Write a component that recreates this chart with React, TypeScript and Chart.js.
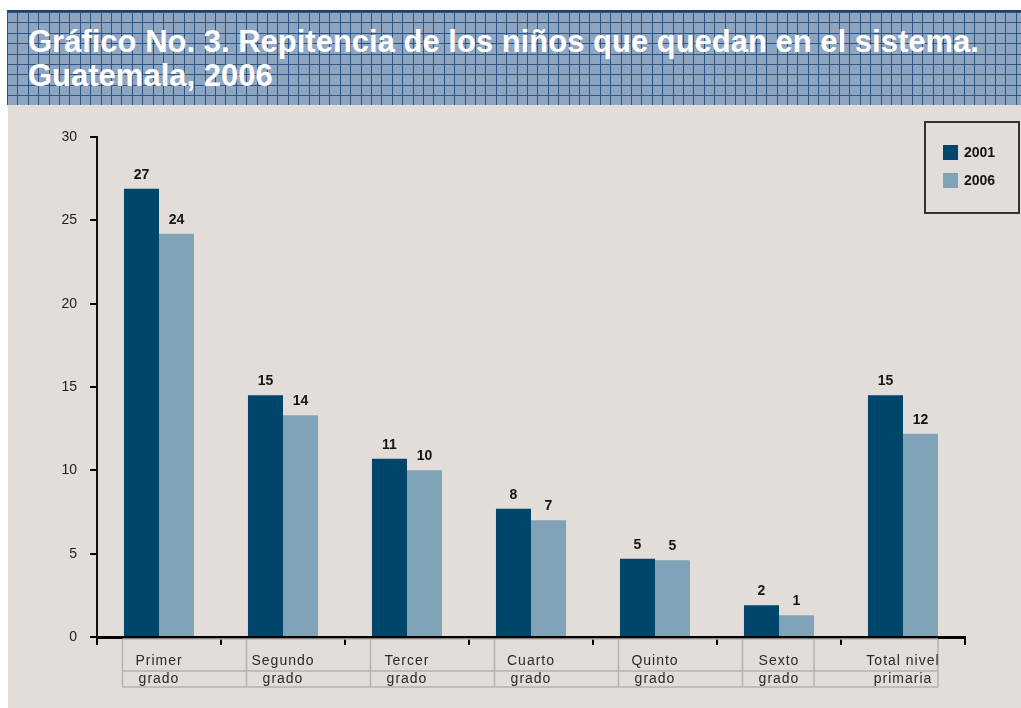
import React, { useEffect, useRef } from "react";
import { Chart, registerables } from "chart.js";

Chart.register(...registerables);

const categories: string[][] = [
  ["Primer", "grado"],
  ["Segundo", "grado"],
  ["Tercer", "grado"],
  ["Cuarto", "grado"],
  ["Quinto", "grado"],
  ["Sexto", "grado"],
  ["Total nivel", "primaria"],
];
const values2001 = [26.9, 14.5, 10.7, 7.7, 4.7, 1.9, 14.5];
const values2006 = [24.2, 13.3, 10.0, 7.0, 4.6, 1.3, 12.2];
const labels2001 = ["27", "15", "11", "8", "5", "2", "15"];
const labels2006 = ["24", "14", "10", "7", "5", "1", "12"];
const seriesNames = ["2001", "2006"];
const yTicks = [0, 5, 10, 15, 20, 25, 30];

const titleLines = [
  "Gráfico No. 3. Repitencia de los niños que quedan en el sistema.",
  "Guatemala, 2006",
];

const COLOR_2001 = "#00466b";
const COLOR_2006 = "#80a3b8";
const FONT = "'Liberation Sans', Arial, sans-serif";

const overlayPlugin = {
  id: "overlay",
  afterDatasetsDraw(chart: any) {
    const ctx = chart.ctx;
    const valueLabels = [labels2001, labels2006];
    ctx.save();
    ctx.font = `bold 14px ${FONT}`;
    ctx.fillStyle = "#141414";
    ctx.textAlign = "center";
    ctx.textBaseline = "middle";
    chart.data.datasets.forEach((_ds: any, di: number) => {
      const meta = chart.getDatasetMeta(di);
      meta.data.forEach((bar: any, i: number) => {
        ctx.fillText(valueLabels[di][i], bar.x, bar.y - 14);
      });
    });
    ctx.restore();
  },
  afterDraw(chart: any) {
    const ctx = chart.ctx;
    const area = chart.chartArea;
    const xScale = chart.scales.x;
    const m0 = chart.getDatasetMeta(0).data;
    const m1 = chart.getDatasetMeta(1).data;
    const n = m0.length;

    // category table under the axis
    const top = area.bottom + 2;
    const mid = area.bottom + 34;
    const bot = area.bottom + 50;
    const vlines: number[] = [];
    for (let i = 0; i < n - 1; i++) vlines.push(m0[i].x - m0[i].width / 2 - 1.5);
    vlines.push(m1[n - 2].x + m1[n - 2].width / 2);
    vlines.push(m1[n - 1].x + m1[n - 1].width / 2);
    const x0 = vlines[0];
    const x1 = vlines[vlines.length - 1];
    ctx.save();
    ctx.strokeStyle = "#b5b2af";
    ctx.lineWidth = 1.5;
    ctx.beginPath();
    [top, mid, bot].forEach((y) => {
      ctx.moveTo(x0, y);
      ctx.lineTo(x1, y);
    });
    vlines.forEach((x) => {
      ctx.moveTo(x, top);
      ctx.lineTo(x, bot);
    });
    ctx.stroke();

    ctx.fillStyle = "#2e2828";
    ctx.font = `14px ${FONT}`;
    (ctx as any).letterSpacing = "1px";
    ctx.textAlign = "center";
    ctx.textBaseline = "alphabetic";
    chart.data.labels.forEach((lab: string[], i: number) => {
      const cx = xScale.getPixelForValue(i);
      ctx.fillText(lab[0], cx, area.bottom + 28);
      ctx.fillText(lab[1], cx, area.bottom + 46);
    });
    (ctx as any).letterSpacing = "0px";

    // legend
    const lx = 925, ly = 122, lw = 94, lh = 91;
    ctx.strokeStyle = "#333333";
    ctx.lineWidth = 2;
    ctx.strokeRect(lx, ly, lw, lh);
    ctx.font = `bold 14px ${FONT}`;
    ctx.textAlign = "left";
    ctx.textBaseline = "middle";
    chart.data.datasets.forEach((ds: any, di: number) => {
      const y = ly + 23 + di * 28;
      ctx.fillStyle = ds.backgroundColor;
      ctx.fillRect(lx + 18, y, 15, 15);
      ctx.fillStyle = "#141414";
      ctx.fillText(ds.label, lx + 39, y + 8);
    });
    ctx.restore();
  },
};

export default function App() {
  const ref = useRef<HTMLCanvasElement>(null);

  useEffect(() => {
    if (!ref.current) return;
    const chart = new Chart(ref.current, {
      type: "bar",
      data: {
        labels: categories,
        datasets: [
          {
            label: seriesNames[0],
            data: values2001,
            backgroundColor: COLOR_2001,
            categoryPercentage: 0.565,
            barPercentage: 1,
          },
          {
            label: seriesNames[1],
            data: values2006,
            backgroundColor: COLOR_2006,
            categoryPercentage: 0.565,
            barPercentage: 1,
          },
        ],
      },
      options: {
        responsive: false,
        animation: false,
        devicePixelRatio: 1,
        layout: { padding: { top: 137, right: 56, left: 0, bottom: 0 } },
        plugins: {
          legend: { display: false },
          tooltip: { enabled: false },
          title: { display: false },
        },
        scales: {
          x: {
            offset: true,
            grid: {
              offset: true,
              drawOnChartArea: false,
              drawTicks: true,
              tickLength: 8,
              color: "#000",
              lineWidth: 2,
            },
            border: { display: true, color: "#000", width: 3 },
            ticks: { display: false },
            afterFit: (s: any) => {
              s.height = 71;
            },
          },
          y: {
            min: 0,
            max: 30,
            afterBuildTicks: (s: any) => {
              s.ticks = yTicks.map((v) => ({ value: v }));
            },
            grid: {
              drawOnChartArea: false,
              drawTicks: true,
              tickLength: 7,
              color: "#000",
              lineWidth: 2,
            },
            border: { display: true, color: "#111", width: 2 },
            ticks: {
              color: "#1e1e1e",
              font: { family: FONT, size: 14 },
              padding: 13,
            },
            afterFit: (s: any) => {
              s.width = 97;
            },
          },
        },
      },
      plugins: [overlayPlugin],
    });
    return () => chart.destroy();
  }, []);

  const lineCol = "#2d5585";
  const gridBg =
    `repeating-linear-gradient(to right, ${lineCol} 0px, ${lineCol} 1px, transparent 1px, transparent 10.4px),` +
    `repeating-linear-gradient(to bottom, ${lineCol} 0px, ${lineCol} 1px, transparent 1px, transparent 10.4px)`;

  return (
    <div style={{ position: "absolute", left: 0, top: 0, width: 1021, height: 708, background: "#fff", overflow: "hidden" }}>
      <div
        style={{
          position: "absolute",
          left: 7,
          top: 10,
          width: 1014,
          height: 95,
          backgroundColor: "#8da5c1",
          backgroundImage: gridBg,
          borderTop: "2px solid #1e3f6c",
          boxSizing: "border-box",
        }}
      />
      <div
        style={{
          position: "absolute",
          left: 28,
          top: 25,
          color: "#fff",
          fontFamily: FONT,
          fontWeight: "bold",
          fontSize: 31,
          lineHeight: "34px",
          whiteSpace: "nowrap",
        }}
      >
        {titleLines.map((t, i) => (
          <div key={i}>{t}</div>
        ))}
      </div>
      <div
        style={{
          position: "absolute",
          left: 8,
          top: 105,
          width: 1013,
          height: 603,
          background: "#e2ddd8",
        }}
      />
      <canvas
        ref={ref}
        width={1021}
        height={708}
        style={{ position: "absolute", left: 0, top: 0, width: 1021, height: 708 }}
      />
    </div>
  );
}
